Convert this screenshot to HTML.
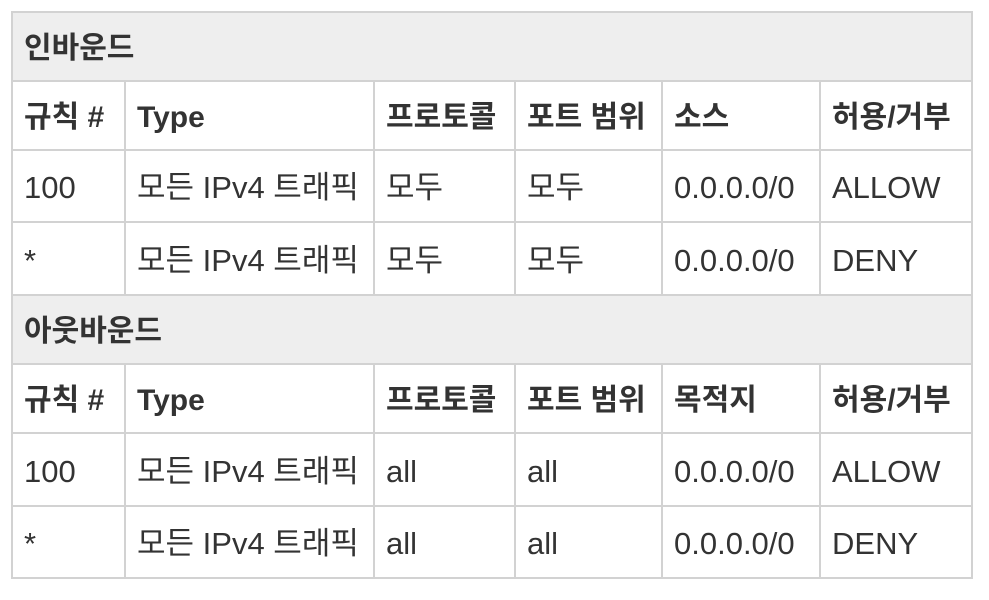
<!DOCTYPE html>
<html><head><meta charset="utf-8"><style>
body{margin:0;width:989px;height:600px;background:#fff;position:relative;overflow:hidden;font-family:"Liberation Sans","Noto Sans CJK KR",sans-serif;color:#333}
.c{position:absolute;box-sizing:border-box;border:2px solid #d2d2d2;padding-left:11px;font-size:31px;white-space:nowrap;line-height:36px}
.c span{position:absolute;left:11px;top:50%;margin-top:-16px;height:36px;line-height:36px}
.s{background:#eee;font-weight:bold;font-size:30px}
.h{font-weight:bold;font-size:30px}
</style></head><body>
<div id="t"></div>
<script>
const H=[11,80,149,221,294,363,432,505,577];
const V=[11,124,373,514,661,819,971];
const rows=[
 {s:"인바운드"},
 {h:["규칙 #","Type","프로토콜","포트 범위","소스","허용/거부"]},
 {d:["100","모든 IPv4 트래픽","모두","모두","0.0.0.0/0","ALLOW"]},
 {d:["*","모든 IPv4 트래픽","모두","모두","0.0.0.0/0","DENY"]},
 {s:"아웃바운드"},
 {h:["규칙 #","Type","프로토콜","포트 범위","목적지","허용/거부"]},
 {d:["100","모든 IPv4 트래픽","all","all","0.0.0.0/0","ALLOW"]},
 {d:["*","모든 IPv4 트래픽","all","all","0.0.0.0/0","DENY"]}
];
const t=document.getElementById('t');
function cell(cls,name,x,y,w,h,txt){
 const e=document.createElement('div');e.className=cls;
 
 
 e.style.cssText=`left:${x}px;top:${y}px;width:${w}px;height:${h}px`;
 const s=document.createElement('span');s.textContent=txt;e.appendChild(s);
 t.appendChild(e);
}
rows.forEach((r,i)=>{
 const y=H[i],h=H[i+1]-H[i]+2;
 if(r.s){
  cell('c s','section-header',V[0],y,V[6]-V[0]+2,h,r.s);
 } else {
  const a=r.h||r.d;
  a.forEach((txt,j)=>{
   cell('c'+(r.h?' h':''),r.h?'column-header':'table-cell',V[j],y,V[j+1]-V[j]+2,h,txt);
  });
 }
});
</script>
</body></html>
